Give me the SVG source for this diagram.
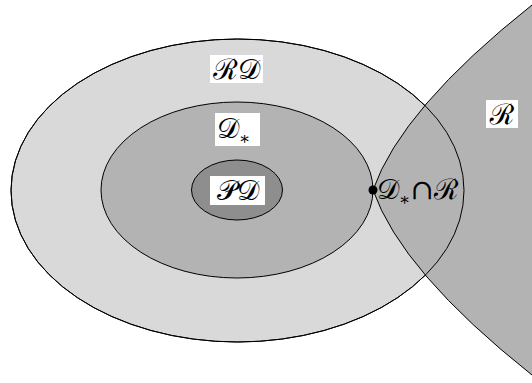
<svg xmlns="http://www.w3.org/2000/svg" width="532" height="383" viewBox="0 0 532 383">
<style>
.ln{stroke:#000;stroke-width:1}
.lt{fill:#d9d9d9}
.md{fill:#b3b3b3}
.dk{fill:#8e8e8e}
.bg{fill:#fff}
.t{font-family:"DejaVu Serif","Noto Sans","DejaVu Sans",serif;font-size:28px;fill:#000}
.s{font-size:17px}
</style>
<rect width="532" height="383" fill="#fff"/>
<g id="RD">
<ellipse cx="237.5" cy="190.5" rx="226.5" ry="151.5" class="lt ln"/>
</g>
<g id="Dstar">
<ellipse cx="237" cy="190" rx="136" ry="88" class="md ln"/>
</g>
<g id="PD">
<ellipse cx="237" cy="190" rx="45.5" ry="30" class="dk ln"/>
</g>
<g id="R">
<path d="M373 190 Q401.5 108.5 532 5 L540 5 L540 375 L532 375 Q401.5 271.5 373 190 Z" class="md ln"/>
</g>
<g id="connectors">
<ellipse cx="237.5" cy="190.5" rx="226.5" ry="151.5" fill="none" class="ln"/>
</g>
<g id="labels">
<rect x="210" y="55" width="53" height="28" class="bg"/>
<text x="236.5" y="79" text-anchor="middle" class="t">ℛ𝒟</text>
<rect x="215" y="113" width="45" height="33" class="bg"/>
<text x="217" y="138" class="t">𝒟<tspan class="s" dy="6">∗</tspan></text>
<rect x="210" y="176" width="55" height="29" class="bg"/>
<text x="237.5" y="200" text-anchor="middle" class="t">𝒫𝒟</text>
<rect x="486" y="100" width="32" height="28" class="bg"/>
<text x="502" y="124" text-anchor="middle" class="t">ℛ</text>
</g>
<g id="intersection">
<circle cx="373" cy="190" r="4.5" fill="#000"/>
<text x="377" y="199" class="t">𝒟<tspan class="s" dy="6">∗</tspan><tspan dy="-6">∩ℛ</tspan></text>
</g>
</svg>
